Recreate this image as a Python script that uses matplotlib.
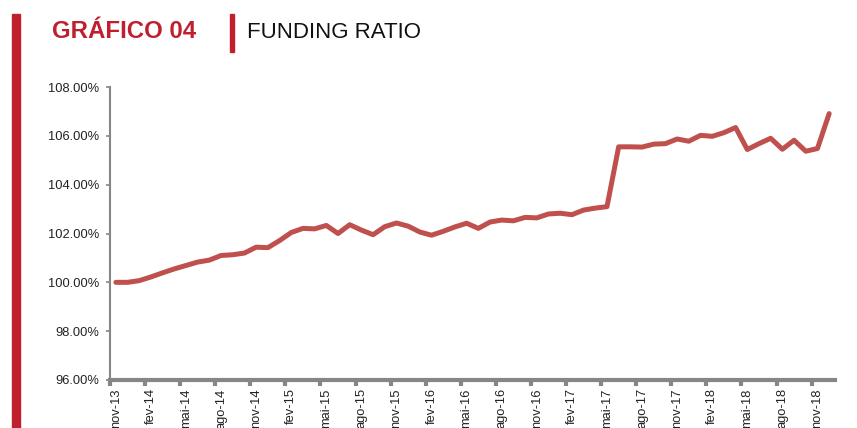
import matplotlib
matplotlib.use('Agg')
import matplotlib.pyplot as plt
from matplotlib.patches import Rectangle
import numpy as np

# funding ratio mensal, nov-13 a dez-18 (%)
funding_ratio = [
    100.00, 100.00, 100.07, 100.22, 100.39, 100.55, 100.69, 100.83, 100.91, 101.10,
    101.13, 101.20, 101.44, 101.42, 101.71, 102.04, 102.21, 102.19, 102.33, 102.00,
    102.36, 102.14, 101.95, 102.28, 102.43, 102.30, 102.06, 101.93, 102.09, 102.27,
    102.42, 102.21, 102.47, 102.55, 102.52, 102.66, 102.64, 102.80, 102.83, 102.77,
    102.96, 103.04, 103.10, 105.55, 105.55, 105.54, 105.66, 105.68, 105.87, 105.78,
    106.02, 105.98, 106.13, 106.34, 105.44, 105.68, 105.90, 105.45, 105.82, 105.37,
    105.48, 106.91,
]
tick_labels = [
    'nov-13', 'fev-14', 'mai-14', 'ago-14', 'nov-14', 'fev-15', 'mai-15', 'ago-15',
    'nov-15', 'fev-16', 'mai-16', 'ago-16', 'nov-16', 'fev-17', 'mai-17', 'ago-17',
    'nov-17', 'fev-18', 'mai-18', 'ago-18', 'nov-18',
]
y_ticks = [96, 98, 100, 102, 104, 106, 108]

RED = '#C0202E'
LINE = '#C0504D'
GRAY = '#868686'

W, H = 857, 428
fig = plt.figure(figsize=(W / 100, H / 100), dpi=100)

# barras vermelhas do cabecalho
fig.patches.append(Rectangle((12 / W, 0), 8 / W, (H - 14) / H,
                             transform=fig.transFigure, color=RED, zorder=0))
fig.patches.append(Rectangle((230 / W, (H - 52) / H), 4 / W, 38 / H,
                             transform=fig.transFigure, color=RED, zorder=0))
fig.text(52 / W, 1 - 32 / H, 'GRÁFICO 04', color=RED, fontsize=17.3, fontweight='bold',
         family='Liberation Sans', va='center', ha='left')
fig.text(247 / W, 1 - 32 / H, 'FUNDING RATIO', color='#111111', fontsize=16,
         family='Liberation Sans', va='center', ha='left')

ax = fig.add_axes([110 / W, (H - 380) / H, (835 - 110) / W, (380 - 87) / H])
x = np.arange(len(funding_ratio))
ax.plot(x, funding_ratio, color=LINE, lw=3.6, solid_capstyle='round',
        solid_joinstyle='round', clip_on=False, zorder=3)

ax.set_xlim(-0.5, len(funding_ratio) - 0.5)
ax.set_ylim(96, 108)

# marcas entre categorias, rotulos no centro do mes
ax.set_xticks(np.arange(-0.5, len(funding_ratio) - 1, 3))
ax.set_xticklabels([])
ax.set_xticks(np.arange(0, len(funding_ratio), 3), minor=True)
ax.set_xticklabels(tick_labels, minor=True, rotation=90, fontsize=9.3,
                   family='Liberation Sans', color='#222222')
ax.tick_params(axis='x', which='major', length=4, width=3, color=GRAY, direction='out')
ax.tick_params(axis='x', which='minor', length=0, pad=6)

ax.set_yticks(y_ticks)
ax.set_yticklabels(['%.2f%%' % v for v in y_ticks], fontsize=9.3,
                   family='Liberation Sans', color='#222222')
ax.tick_params(axis='y', length=3, width=1.2, color=GRAY, pad=5)

for s in ['top', 'right']:
    ax.spines[s].set_visible(False)
ax.spines['left'].set_color(GRAY)
ax.spines['left'].set_linewidth(1.5)
ax.spines['bottom'].set_color(GRAY)
ax.spines['bottom'].set_linewidth(3)
ax.spines['bottom'].set_zorder(4)

fig.savefig('out.png', dpi=100)
